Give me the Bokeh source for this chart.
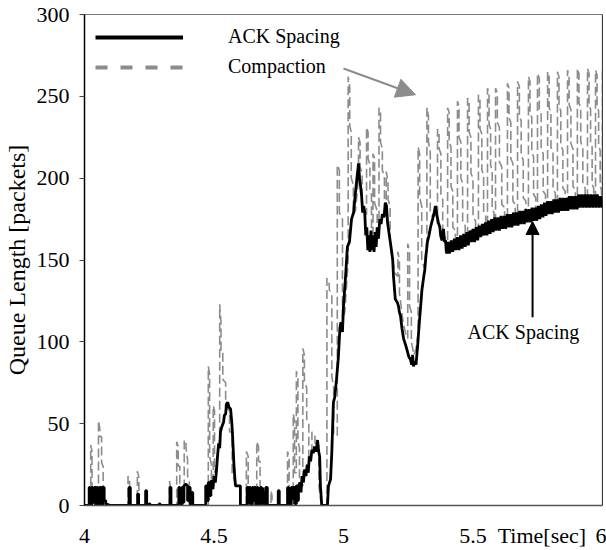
from bokeh.plotting import figure
from bokeh.models import Range1d, Legend, LegendItem, Arrow, NormalHead, Label, Span, ColumnDataSource
from bokeh.embed import file_html
from bokeh.resources import INLINE

FONT = "Liberation Serif"

x_ticks = [4, 4.5, 5, 5.5, 5.766, 6]
x_tick_labels = {4: "4", 4.5: "4.5", 5: "5", 5.5: "5.5", 5.766: "Time[sec]", 6: "6"}
y_ticks = [0, 50, 100, 150, 200, 250, 300]

series_names = ["ACK Spacing", "Compaction"]

# ---- ACK Spacing (black), (time, queue) ----
ack_early = [
    (4.000, 0), (4.018, 0), (4.018, 11), (4.022, 11), (4.022, 0), (4.028, 0), (4.028, 11), (4.032, 11),
    (4.032, 2), (4.038, 2), (4.038, 11), (4.043, 11), (4.043, 0), (4.047, 0), (4.047, 11), (4.052, 11),
    (4.052, 0), (4.058, 0), (4.058, 11), (4.066, 11), (4.066, 0), (4.070, 0), (4.070, 11), (4.076, 11),
    (4.076, 3), (4.082, 3), (4.082, 1), (4.100, 0),
    (4.172, 0), (4.172, 11), (4.177, 11), (4.177, 0), (4.205, 0), (4.205, 7), (4.209, 7), (4.209, 0),
    (4.236, 0), (4.236, 9), (4.240, 9), (4.240, 0), (4.249, 0), (4.249, 1), (4.253, 1), (4.253, 0),
    (4.288, 0), (4.288, 1), (4.292, 1), (4.292, 0),
    (4.330, 0), (4.330, 11), (4.334, 11), (4.334, 0), (4.364, 0), (4.364, 11), (4.368, 11), (4.368, 0),
    (4.376, 0), (4.376, 11), (4.380, 11), (4.380, 2), (4.384, 2), (4.384, 12), (4.392, 13), (4.398, 12),
    (4.398, 3), (4.402, 3), (4.402, 11), (4.408, 11), (4.408, 0), (4.414, 0), (4.414, 8), (4.418, 8),
    (4.418, 0), (4.468, 0), (4.468, 12), (4.474, 12), (4.474, 3), (4.478, 3), (4.478, 14), (4.484, 14),
    (4.484, 6), (4.488, 6), (4.488, 15),
]
ack_hump = [
    (4.490, 15), (4.496, 10), (4.500, 18), (4.505, 14), (4.510, 22), (4.513, 29), (4.518, 38), (4.522, 35),
    (4.525, 45), (4.530, 48), (4.537, 51), (4.540, 55), (4.545, 56), (4.548, 62), (4.553, 63), (4.558, 60),
    (4.564, 59), (4.568, 52), (4.571, 45), (4.574, 35), (4.577, 25), (4.580, 18), (4.583, 12), (4.595, 12),
    (4.602, 12), (4.602, 0),
]
ack_mid = [
    (4.628, 0), (4.628, 11), (4.633, 11), (4.633, 2), (4.637, 2), (4.637, 11), (4.641, 11), (4.641, 0),
    (4.648, 0), (4.648, 11), (4.653, 11), (4.653, 3), (4.657, 3), (4.657, 11), (4.661, 11), (4.661, 0),
    (4.666, 0), (4.666, 11), (4.670, 11), (4.670, 0), (4.680, 0), (4.680, 11), (4.684, 11), (4.684, 2),
    (4.688, 2), (4.688, 11), (4.692, 0), (4.700, 0), (4.700, 11), (4.706, 11), (4.706, 0), (4.748, 0),
    (4.748, 9), (4.752, 9), (4.752, 0), (4.784, 0), (4.784, 11), (4.788, 11), (4.788, 0), (4.798, 0),
    (4.798, 11), (4.803, 11), (4.803, 4), (4.807, 4), (4.807, 11), (4.812, 11), (4.812, 1), (4.818, 1),
    (4.818, 12), (4.822, 12), (4.822, 3), (4.826, 3), (4.826, 12), (4.832, 14), (4.836, 8), (4.840, 18),
    (4.845, 14), (4.850, 22), (4.855, 18), (4.860, 25), (4.864, 20), (4.868, 30), (4.873, 27), (4.878, 34),
    (4.884, 32), (4.888, 36), (4.894, 33), (4.900, 40), (4.903, 34), (4.908, 30), (4.911, 12), (4.916, 0),
    (4.938, 0),
]
ack_rise = [
    (4.942, 12), (4.950, 16), (4.955, 33), (4.961, 63), (4.966, 66), (4.973, 77), (4.980, 90), (4.986, 108),
    (4.990, 112), (4.996, 106), (5.000, 122), (5.008, 140), (5.015, 158), (5.023, 161), (5.031, 175),
    (5.039, 179), (5.046, 191), (5.052, 200), (5.058, 209), (5.062, 200), (5.066, 195), (5.070, 189),
    (5.074, 179), (5.078, 183), (5.082, 179), (5.086, 165), (5.090, 170), (5.094, 156), (5.098, 165),
    (5.102, 155), (5.106, 168), (5.110, 156), (5.114, 165), (5.118, 155), (5.122, 167), (5.126, 158),
    (5.130, 170), (5.135, 163), (5.140, 175), (5.145, 172), (5.150, 178), (5.156, 176), (5.162, 185),
    (5.166, 183), (5.170, 173), (5.178, 164), (5.186, 155), (5.190, 150), (5.193, 140), (5.200, 126),
    (5.208, 124), (5.212, 122), (5.216, 118), (5.220, 116), (5.226, 108), (5.232, 102), (5.240, 98),
    (5.247, 94), (5.252, 91), (5.259, 89), (5.263, 86), (5.267, 92), (5.270, 85), (5.275, 88), (5.280, 86),
    (5.286, 97), (5.292, 110), (5.297, 120), (5.303, 132), (5.310, 140), (5.314, 144), (5.318, 152),
    (5.324, 161), (5.330, 165), (5.336, 170), (5.344, 175), (5.350, 179), (5.355, 183), (5.360, 178),
    (5.366, 173), (5.372, 170), (5.375, 165), (5.380, 162), (5.386, 169), (5.390, 161), (5.394, 162),
    (5.397, 155), (5.400, 154),
]
ack_late = [
    (5.404, 161), (5.410, 154), (5.416, 162), (5.422, 155), (5.428, 163), (5.434, 156), (5.440, 164),
    (5.446, 156), (5.452, 165), (5.458, 157), (5.464, 166), (5.470, 158), (5.476, 167), (5.482, 159),
    (5.488, 168), (5.494, 161), (5.500, 169), (5.506, 161), (5.512, 170), (5.518, 162), (5.524, 171),
    (5.530, 164), (5.536, 172), (5.542, 165), (5.548, 173), (5.554, 165), (5.560, 174), (5.566, 166),
    (5.572, 175), (5.578, 167), (5.584, 176), (5.590, 168), (5.596, 176), (5.602, 168), (5.608, 177),
    (5.614, 169), (5.620, 177), (5.626, 169), (5.632, 178), (5.638, 170), (5.644, 178), (5.650, 170),
    (5.656, 179), (5.662, 171), (5.668, 179), (5.674, 171), (5.680, 180), (5.686, 172), (5.692, 180),
    (5.698, 172), (5.704, 181), (5.710, 173), (5.716, 181), (5.722, 173), (5.728, 182), (5.734, 174),
    (5.740, 182), (5.746, 174), (5.752, 183), (5.758, 175), (5.764, 184), (5.770, 176), (5.776, 185),
    (5.782, 177), (5.788, 186), (5.794, 178), (5.800, 186), (5.806, 178), (5.812, 187), (5.818, 179),
    (5.824, 187), (5.830, 179), (5.836, 188), (5.842, 180), (5.848, 188), (5.854, 180), (5.860, 188),
    (5.866, 180), (5.872, 189), (5.878, 181), (5.884, 189), (5.890, 181), (5.896, 189), (5.902, 181),
    (5.908, 190), (5.914, 182), (5.920, 190), (5.926, 182), (5.932, 190), (5.938, 182), (5.944, 190),
    (5.950, 182), (5.956, 190), (5.962, 182), (5.968, 190), (5.974, 182), (5.980, 190), (5.986, 182),
    (5.992, 189), (5.998, 182),
]

# ---- Compaction (gray dashed), (time, queue) ----
comp_early = [
    (4.000, 0), (4.024, 0), (4.024, 37), (4.029, 33), (4.029, 11), (4.036, 11), (4.036, 0), (4.054, 0),
    (4.054, 52), (4.059, 47), (4.059, 42), (4.066, 42), (4.066, 26), (4.072, 24), (4.072, 3), (4.080, 0),
    (4.168, 0), (4.168, 18), (4.174, 15), (4.174, 0), (4.204, 0), (4.204, 21), (4.210, 17), (4.210, 0),
    (4.328, 0), (4.328, 15), (4.333, 10), (4.333, 0), (4.356, 0), (4.356, 39), (4.362, 36), (4.362, 24),
    (4.368, 24), (4.368, 0), (4.385, 0), (4.385, 40), (4.392, 39), (4.392, 35), (4.398, 28), (4.398, 18),
    (4.405, 15), (4.405, 0), (4.470, 0),
]
comp_hump = [
    (4.478, 0), (4.478, 85), (4.483, 80), (4.483, 30), (4.490, 25), (4.490, 10), (4.497, 12), (4.497, 61),
    (4.502, 58), (4.502, 20), (4.510, 25), (4.522, 40), (4.522, 123), (4.527, 112), (4.527, 95),
    (4.534, 95), (4.534, 77), (4.545, 75), (4.545, 60), (4.560, 58), (4.560, 45), (4.570, 45), (4.570, 20),
    (4.585, 12), (4.600, 12), (4.600, 0),
]
comp_mid = [
    (4.625, 0), (4.625, 33), (4.632, 30), (4.632, 0), (4.665, 0), (4.665, 39), (4.672, 36), (4.672, 27),
    (4.678, 27), (4.678, 0), (4.720, 0), (4.720, 9), (4.724, 6), (4.724, 0), (4.784, 0), (4.784, 33),
    (4.790, 29), (4.790, 0), (4.806, 0), (4.806, 56), (4.811, 52), (4.811, 20), (4.818, 20), (4.818, 82),
    (4.824, 78), (4.824, 40), (4.830, 35), (4.830, 12), (4.843, 12), (4.843, 96), (4.849, 92), (4.849, 75),
    (4.858, 72), (4.858, 53), (4.866, 50), (4.866, 30), (4.878, 30), (4.878, 45), (4.890, 42), (4.890, 38),
    (4.905, 38), (4.905, 12), (4.915, 0), (4.936, 0),
]
comp_rise = [
    (4.936, 139), (4.945, 135), (4.945, 132), (4.955, 128), (4.955, 79), (4.962, 72), (4.962, 43),
    (4.976, 43), (4.976, 208), (4.984, 205), (4.984, 179), (4.996, 175), (4.996, 114), (5.005, 118),
    (5.018, 150), (5.018, 262), (5.024, 256), (5.024, 232), (5.030, 228), (5.030, 200), (5.038, 196),
    (5.038, 178), (5.046, 180), (5.058, 200), (5.058, 225), (5.064, 222), (5.064, 207), (5.072, 203),
    (5.072, 180), (5.080, 178), (5.089, 178), (5.089, 231), (5.095, 228), (5.095, 212), (5.102, 208),
    (5.102, 193), (5.108, 190), (5.108, 168), (5.114, 166), (5.114, 215), (5.120, 212), (5.120, 185),
    (5.130, 180), (5.130, 165), (5.137, 165), (5.137, 243), (5.143, 240), (5.143, 222), (5.150, 218),
    (5.150, 205), (5.158, 200), (5.158, 180), (5.165, 178), (5.165, 204), (5.172, 198), (5.172, 187),
    (5.180, 183), (5.180, 160), (5.190, 150), (5.198, 142), (5.210, 140), (5.210, 155), (5.216, 150),
    (5.216, 130), (5.230, 112), (5.240, 105), (5.248, 102), (5.248, 160), (5.255, 155), (5.255, 122),
    (5.262, 118), (5.262, 100), (5.272, 92), (5.280, 96), (5.288, 105), (5.288, 219), (5.294, 215),
    (5.294, 188), (5.302, 183), (5.302, 150), (5.312, 145), (5.322, 162), (5.322, 243), (5.328, 238),
    (5.328, 222), (5.335, 216), (5.335, 180), (5.345, 176), (5.356, 178),
]
# steady part: each vertical move as (time, from, to)
comp_late_moves = [
    (5.363, 172, 230), (5.369, 227, 218), (5.376, 215, 190), (5.383, 187, 168), (5.393, 166, 160),
    (5.402, 160, 243), (5.408, 240, 222), (5.415, 219, 195), (5.422, 192, 170), (5.432, 168, 162),
    (5.440, 162, 247), (5.446, 244, 225), (5.453, 222, 200), (5.460, 197, 173), (5.470, 171, 165),
    (5.479, 165, 249), (5.485, 246, 228), (5.492, 225, 203), (5.500, 200, 176), (5.510, 174, 168),
    (5.521, 168, 251), (5.527, 248, 230), (5.534, 227, 205), (5.541, 202, 179), (5.549, 177, 171),
    (5.556, 171, 255), (5.562, 252, 233), (5.568, 230, 208), (5.574, 205, 181), (5.581, 179, 173),
    (5.587, 173, 255), (5.594, 252, 234), (5.602, 231, 210), (5.611, 207, 184), (5.622, 182, 175),
    (5.633, 175, 258), (5.639, 255, 237), (5.646, 234, 212), (5.654, 209, 186), (5.663, 184, 177),
    (5.672, 177, 259), (5.679, 256, 238), (5.686, 235, 214), (5.694, 211, 188), (5.704, 186, 179),
    (5.714, 179, 262), (5.720, 259, 240), (5.727, 237, 216), (5.734, 213, 190), (5.742, 188, 181),
    (5.749, 181, 264), (5.756, 261, 242), (5.763, 239, 218), (5.771, 215, 192), (5.780, 190, 183),
    (5.788, 183, 265), (5.794, 262, 243), (5.801, 240, 219), (5.809, 216, 193), (5.818, 191, 185),
    (5.826, 185, 265), (5.832, 262, 244), (5.839, 241, 220), (5.847, 217, 194), (5.856, 192, 186),
    (5.865, 186, 266), (5.871, 263, 245), (5.878, 242, 221), (5.886, 218, 195), (5.895, 193, 187),
    (5.903, 187, 267), (5.909, 264, 246), (5.916, 243, 222), (5.924, 219, 196), (5.933, 194, 188),
    (5.942, 188, 267), (5.948, 264, 245), (5.954, 242, 222), (5.960, 219, 196), (5.966, 194, 188),
    (5.973, 188, 266), (5.979, 263, 244), (5.985, 241, 220), (5.991, 217, 195), (5.996, 193, 188),
    (6.000, 188, 267),
]

# ---- build sources ----
ack_pts = ack_early + ack_hump + ack_mid + ack_rise + ack_late
comp_pts = comp_early + comp_hump + comp_mid + comp_rise
for t, a, b in comp_late_moves:
    comp_pts.append((t, a))
    comp_pts.append((t, b))

ack_src = ColumnDataSource(dict(t=[q[0] for q in ack_pts], q=[q[1] for q in ack_pts]))
comp_src = ColumnDataSource(dict(t=[q[0] for q in comp_pts], q=[q[1] for q in comp_pts]))
nan_src = ColumnDataSource(dict(t=[float("nan")], q=[float("nan")]))

GRAY = "#8c8c8c"

p = figure(width=606, height=550, x_range=Range1d(4, 6), y_range=Range1d(0, 300),
           output_backend="svg", toolbar_location=None,
           min_border_left=84, min_border_right=4, min_border_top=14, min_border_bottom=43)
p.background_fill_color = "white"
p.border_fill_color = "white"
p.outline_line_color = "#777777"
p.xgrid.grid_line_color = None
p.ygrid.grid_line_color = None

p.line("t", "q", source=comp_src, line_color=GRAY, line_width=1.6, line_dash="9 4")
p.line("t", "q", source=ack_src, line_color="black", line_width=2.8)

# legend glyphs (drawn only in the legend)
leg_ack = p.line("t", "q", source=nan_src, line_color="black", line_width=4)
leg_comp = p.line("t", "q", source=nan_src, line_color=GRAY, line_width=4, line_dash="12 13")
legend = Legend(items=[LegendItem(label=series_names[0], renderers=[leg_ack]),
                       LegendItem(label=series_names[1], renderers=[leg_comp])],
                location="top_left", margin=11, padding=0, spacing=7,
                glyph_width=88, glyph_height=20, label_height=20, label_standoff=45,
                label_text_font=FONT, label_text_font_size="20px", label_text_color="black",
                background_fill_alpha=0, border_line_alpha=0)
p.add_layout(legend)

# axes
p.xaxis.ticker = x_ticks
p.xaxis.major_label_overrides = x_tick_labels
p.xaxis.major_tick_line_color = None
p.xaxis.minor_tick_line_color = None
p.xaxis.major_tick_out = 0
p.xaxis.major_label_standoff = 17
p.xaxis.axis_line_color = "#555555"
p.xaxis.axis_line_width = 1.5
p.xaxis.major_label_text_font = FONT
p.xaxis.major_label_text_font_size = "22px"
p.xaxis.major_label_text_color = "black"

p.yaxis.ticker = y_ticks
p.yaxis.minor_tick_line_color = None
p.yaxis.major_tick_out = 5
p.yaxis.major_tick_in = 0
p.yaxis.major_tick_line_color = "#444444"
p.yaxis.axis_line_color = "black"
p.yaxis.axis_line_width = 1.5
p.yaxis.major_label_standoff = 10
p.yaxis.major_label_text_font = FONT
p.yaxis.major_label_text_font_size = "22px"
p.yaxis.major_label_text_color = "black"
p.yaxis.axis_label = "Queue Length [packets]"
p.yaxis.axis_label_text_font = FONT
p.yaxis.axis_label_text_font_size = "24px"
p.yaxis.axis_label_text_font_style = "normal"
p.yaxis.axis_label_text_color = "black"
p.yaxis.axis_label_standoff = 4

p.add_layout(Span(location=6, dimension="height", line_color="black", line_width=1.2))

# annotations
p.add_layout(Arrow(end=NormalHead(size=19, fill_color=GRAY, line_color=GRAY),
                   x_start=5.0, y_start=267, x_end=5.278, y_end=251,
                   line_color=GRAY, line_width=2))
p.add_layout(Arrow(end=NormalHead(size=13, fill_color="black", line_color="black"),
                   x_start=5.730, y_start=115, x_end=5.730, y_end=173.5,
                   line_color="black", line_width=2))
p.add_layout(Label(x=5.479, y=106, text="ACK Spacing", text_baseline="middle",
                   text_font=FONT, text_font_size="20px", text_color="black"))

open("out.html", "w").write(file_html(p, INLINE))
